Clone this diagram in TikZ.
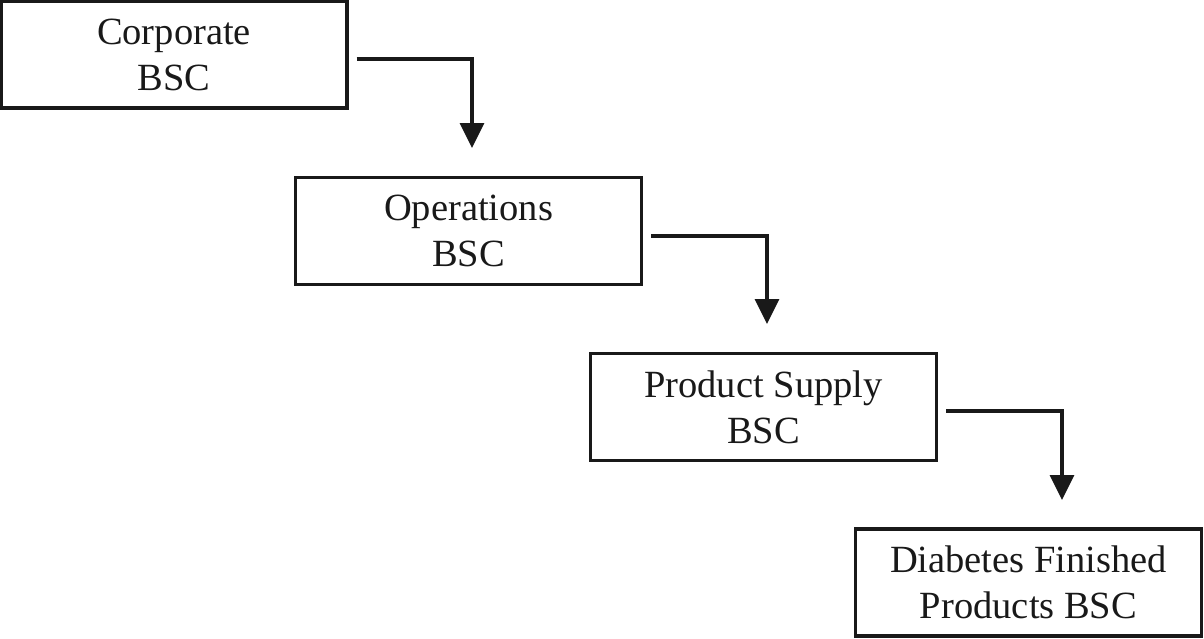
\documentclass[tikz,border=0pt]{standalone}
\usepackage{fontspec}
\setmainfont{Liberation Serif}
\usetikzlibrary{arrows.meta,calc}
\begin{document}
\begin{tikzpicture}[x=1pt,y=-1pt,
  bsc/.style={draw=black!90, line width=3.2pt, minimum width=346pt, minimum height=107pt,
    inner sep=0pt, align=center, font=\fontsize{38.5}{46}\selectfont, text=black!90},
  conn/.style={draw=black!90, line width=3.2pt, -{Triangle[width=24pt,length=25pt]}}]
\useasboundingbox (0,0) rectangle (1204,638);
\node[bsc] (b1) at (174,54.5) {Corporate\\BSC};
\node[bsc] (b2) at (468.5,231) {Operations\\BSC};
\node[bsc] (b3) at (763.5,407) {Product Supply\\BSC};
\node[bsc] (b4) at (1028.5,582.5) {Diabetes Finished\\Products BSC};
\coordinate (e1) at (472,148);
\coordinate (e2) at (767,324);
\coordinate (e3) at (1062,500);
\draw[conn] ($(b1.east)+(8,4.5)$) -| (e1);
\draw[conn] ($(b2.east)+(8,5)$) -| (e2);
\draw[conn] ($(b3.east)+(8,4)$) -| (e3);
\end{tikzpicture}
\end{document}
